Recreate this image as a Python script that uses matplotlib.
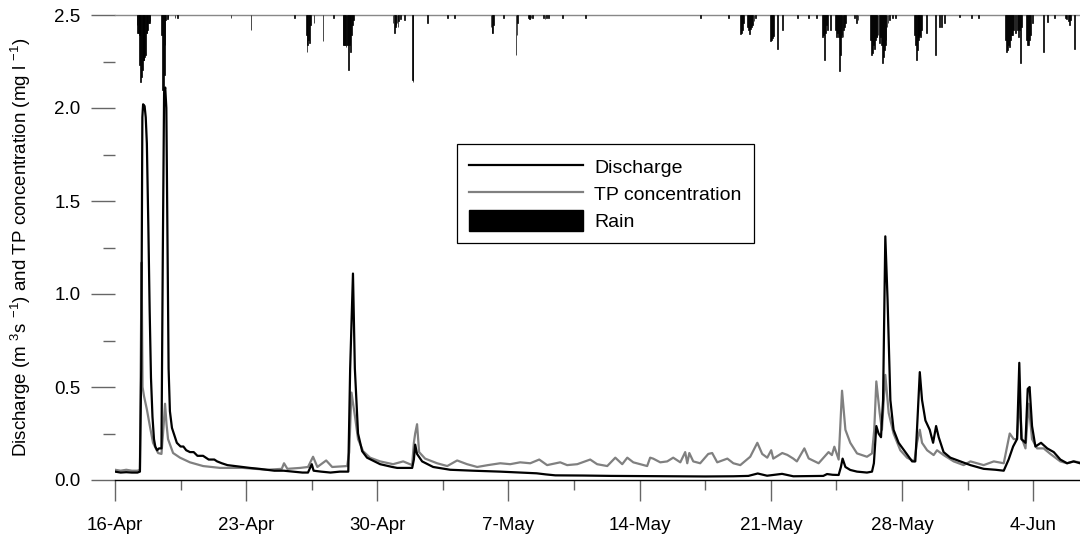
import matplotlib
matplotlib.use("Agg")
import matplotlib.pyplot as plt
import matplotlib.dates as mdates
from matplotlib.patches import Rectangle
from matplotlib.ticker import FixedLocator, MultipleLocator, FormatStrFormatter
import pandas as pd

plt.rcParams['font.family'] = ['Liberation Sans', 'DejaVu Sans']
plt.rcParams['mathtext.fontset'] = 'custom'
plt.rcParams['mathtext.rm'] = 'Liberation Sans'
plt.rcParams['mathtext.default'] = 'regular'

start = pd.Timestamp('2005-04-16')

# days since 16-Apr 00:00
q_days = [0.0, 0.3, 0.6, 0.9, 1.2, 1.33, 1.40, 1.46, 1.50, 1.58, 1.64, 1.70, 1.78, 1.85, 1.92,
          2.0, 2.08, 2.15, 2.25, 2.35, 2.48, 2.55, 2.62, 2.68, 2.74, 2.80, 2.86, 2.93, 3.04,
          3.3, 3.5, 3.65, 3.8, 4.0, 4.2, 4.4, 4.7, 5.0, 5.3, 5.45, 5.7, 6.0, 6.4, 6.8, 7.2,
          7.7, 8.1, 8.5, 9.0, 9.5, 10.0, 10.3, 10.5, 10.6, 11.0, 11.5, 12.0, 12.45, 12.55,
          12.7, 12.8, 12.97, 13.19, 13.45, 14.15, 14.8, 15.06, 15.86, 15.95, 16.02, 16.12,
          16.39, 16.98, 17.89, 19.11, 20.56, 21.62, 22.5, 23.0, 23.5, 25.0, 26.5, 28.0, 30.0,
          31.5, 33.0, 33.8, 34.3, 34.8, 35.6, 36.2, 37.0, 37.8, 38.0, 38.3, 38.62, 38.74,
          38.83, 38.98, 39.24, 39.6, 40.13, 40.4, 40.5, 40.63, 40.75, 40.88, 40.99, 41.11,
          41.23, 41.38, 41.55, 41.82, 42.18, 42.54, 42.71, 42.80, 42.95, 43.07, 43.25, 43.48,
          43.66, 43.82, 43.96, 44.22, 44.58, 45.11, 45.65, 46.36, 47.0, 47.43, 47.69, 47.93,
          48.14, 48.26, 48.37, 48.59, 48.71, 48.81, 48.94, 49.12, 49.42, 49.75, 50.10, 50.45,
          50.81, 51.16, 51.5]
discharge = [0.045, 0.04, 0.042, 0.04, 0.04, 0.045, 0.6, 1.95, 2.02, 2.01, 1.95, 1.81, 1.36, 0.91, 0.55,
             0.34, 0.22, 0.18, 0.16, 0.17, 0.17, 1.2, 2.08, 2.11, 2.0, 1.3, 0.6, 0.37, 0.28,
             0.2, 0.18, 0.18, 0.16, 0.15, 0.15, 0.13, 0.13, 0.11, 0.11, 0.10, 0.09, 0.08, 0.075, 0.07, 0.065,
             0.06, 0.055, 0.05, 0.05, 0.045, 0.04, 0.04, 0.085, 0.05, 0.045, 0.04, 0.045, 0.045, 0.6,
             1.11, 0.6, 0.25, 0.155, 0.12, 0.085, 0.07, 0.065, 0.065, 0.11, 0.19, 0.14,
             0.1, 0.07, 0.055, 0.05, 0.045, 0.04, 0.036, 0.03, 0.025, 0.024, 0.022, 0.021, 0.02,
             0.019, 0.02, 0.022, 0.035, 0.023, 0.033, 0.02, 0.021, 0.022, 0.032, 0.028, 0.027, 0.07,
             0.115, 0.07, 0.054, 0.045, 0.04, 0.045, 0.09, 0.29, 0.25, 0.23, 0.43, 1.31,
             0.97, 0.43, 0.27, 0.2, 0.15, 0.1, 0.1, 0.27, 0.58, 0.43, 0.32, 0.27,
             0.2, 0.29, 0.23, 0.15, 0.12, 0.1, 0.08, 0.06, 0.055, 0.05, 0.11, 0.18,
             0.22, 0.63, 0.22, 0.2, 0.49, 0.5, 0.29, 0.18, 0.2, 0.17, 0.15, 0.11,
             0.09, 0.1, 0.09]

tp_days = [0.0, 0.3, 0.6, 0.9, 1.2, 1.33, 1.37, 1.42, 1.47, 1.55, 1.7, 1.87, 2.03, 2.3, 2.48,
           2.60, 2.67, 2.75, 2.83, 3.1, 3.47, 4.0, 4.7, 5.61, 6.83, 8.12, 8.9, 9.02, 9.2,
           9.88, 10.3, 10.57, 10.8, 11.27, 11.59, 12.39, 12.5, 12.62, 12.81, 12.97, 13.24,
           13.61, 14.15, 14.84, 15.38, 15.86, 15.95, 16.02, 16.12, 16.23, 16.55, 17.19, 17.73,
           18.26, 18.79, 19.33, 19.9, 20.56, 21.09, 21.62, 22.16, 22.64, 23.06, 23.76, 24.13,
           24.67, 25.36, 25.73, 26.27, 26.70, 27.07, 27.34, 27.66, 28.03, 28.40, 28.56, 28.72,
           29.10, 29.47, 29.79, 30.17, 30.43, 30.54, 30.65, 30.86, 31.23, 31.66, 31.87, 32.14,
           32.68, 33.00, 33.37, 33.90, 34.28, 34.54, 34.81, 35.02, 35.13, 35.61, 35.88, 36.04,
           36.2, 36.39, 36.79, 37.02, 37.55, 38.08, 38.26, 38.39, 38.62, 38.8, 38.98, 39.24,
           39.6, 40.13, 40.4, 40.52, 40.63, 40.81, 40.93, 41.11, 41.29, 41.55, 41.91, 42.27,
           42.66, 42.80, 42.95, 43.07, 43.34, 43.69, 43.87, 44.22, 44.76, 45.29, 45.65, 46.36,
           46.90, 47.43, 47.75, 47.96, 48.14, 48.28, 48.41, 48.59, 48.76, 48.94, 49.21, 49.56,
           49.92, 50.45, 50.81, 51.16, 51.5]
tp = [0.055, 0.05, 0.055, 0.05, 0.05, 0.055, 0.6, 1.17, 0.5, 0.45, 0.38, 0.285, 0.2, 0.145, 0.14,
      0.3, 0.41, 0.3, 0.22, 0.145, 0.12, 0.095, 0.075, 0.065, 0.065, 0.055, 0.06, 0.09, 0.06,
      0.065, 0.07, 0.125, 0.07, 0.105, 0.07, 0.075, 0.15, 0.47, 0.34, 0.22, 0.155,
      0.12, 0.1, 0.085, 0.1, 0.08, 0.2, 0.25, 0.3, 0.15, 0.115, 0.09, 0.075,
      0.105, 0.085, 0.07, 0.08, 0.09, 0.085, 0.095, 0.09, 0.11, 0.08, 0.095, 0.08,
      0.085, 0.11, 0.085, 0.075, 0.12, 0.085, 0.12, 0.095, 0.085, 0.075, 0.12, 0.115,
      0.095, 0.1, 0.12, 0.095, 0.15, 0.09, 0.145, 0.1, 0.09, 0.14, 0.145, 0.095,
      0.115, 0.09, 0.08, 0.125, 0.2, 0.14, 0.12, 0.16, 0.115, 0.145, 0.135, 0.125,
      0.115, 0.1, 0.17, 0.116, 0.09, 0.15, 0.134, 0.179, 0.11, 0.48, 0.27, 0.2,
      0.143, 0.125, 0.143, 0.27, 0.53, 0.36, 0.27, 0.565, 0.36, 0.25, 0.16, 0.12,
      0.1, 0.2, 0.27, 0.2, 0.16, 0.134, 0.16, 0.134, 0.1, 0.08, 0.1, 0.08,
      0.1, 0.09, 0.25, 0.22, 0.22, 0.43, 0.22, 0.17, 0.41, 0.22, 0.17, 0.17,
      0.14, 0.1, 0.09, 0.1, 0.095]

# rain (mm per hour), hanging from the top of the plot
rain_days = [1.17, 1.21, 1.25, 1.29, 1.33, 1.38, 1.42, 1.46, 1.50, 1.54, 1.58, 1.63, 1.67, 1.71,
             1.75, 1.79, 1.83, 1.87, 2.50, 2.54, 2.58, 2.63, 2.67, 2.71, 2.79, 2.83, 3.2, 3.35,
             6.19, 7.26, 9.56, 10.20, 10.25, 10.29, 10.33, 10.38, 10.42, 10.62, 11.1, 11.64,
             12.17, 12.21, 12.25, 12.29, 12.33, 12.38, 12.42, 12.46, 12.50, 12.54, 12.58, 12.62,
             12.67, 12.75, 14.84, 14.90, 14.95, 15.0, 15.05, 15.1, 15.15, 15.25, 15.45, 15.86,
             15.9, 16.66, 17.73, 18.1, 20.07, 20.12, 20.16, 20.2, 20.72, 21.4, 21.45, 21.5,
             22.05, 22.1, 22.15, 22.2, 22.3, 22.85, 22.95, 23.05, 23.12, 23.87, 25.09, 31.23,
             32.73, 33.37, 33.42, 33.47, 33.52, 33.74, 33.79, 33.85, 33.9, 33.95, 34.0, 34.1,
             34.2, 34.97, 35.02, 35.07, 35.13, 35.34, 35.61, 36.41, 37.0, 37.43, 37.75, 37.8,
             37.85, 37.9, 37.95, 38.01, 38.17, 38.44, 38.5, 38.55, 38.6, 38.65, 38.7, 38.75,
             38.8, 38.85, 38.9, 38.95, 39.0, 39.46, 39.55, 39.65, 40.31, 40.36, 40.41, 40.46,
             40.52, 40.57, 40.62, 40.67, 40.72, 40.78, 40.84, 40.89, 40.94, 41.0, 41.05, 41.1,
             41.15, 41.2, 41.25, 41.35, 41.48, 41.64, 42.66, 42.71, 42.76, 42.81, 42.86, 42.9,
             42.95, 43.0, 43.05, 43.3, 43.78, 43.99, 44.1, 44.26, 45.06, 45.7, 46.07, 47.52,
             47.57, 47.62, 47.67, 47.73, 47.78, 47.84, 47.89, 47.95, 48.05, 48.15, 48.21, 48.27,
             48.32, 48.37, 48.64, 48.69, 48.75, 48.8, 48.86, 48.96, 49.55, 49.76, 50.13, 50.72,
             50.8, 50.88, 50.94, 50.99, 51.2]
rain = [0.22, 0.39, 0.39, 0.43, 1.08, 1.44, 1.33, 1.18, 0.97, 0.97, 0.90, 0.86, 0.39, 0.39,
        0.32, 0.17, 0.17, 0.13, 0.43, 1.61, 2.19, 1.29, 0.65, 0.11, 0.09, 0.06, 0.06, 0.06,
        0.06, 0.32, 0.06, 0.43, 0.80, 0.65, 0.54, 0.60, 0.22, 0.17, 0.56, 0.06,
        0.65, 0.65, 0.65, 0.65, 0.69, 0.65, 0.65, 1.18, 0.65, 0.60, 0.80, 0.43,
        0.22, 0.11, 0.17, 0.39, 0.26, 0.22, 0.17, 0.26, 0.13, 0.09, 0.11, 1.40,
        1.44, 0.17, 0.06, 0.06, 0.26, 0.39, 0.39, 0.22, 0.06, 0.86, 0.43, 0.17,
        0.06, 0.09, 0.09, 0.06, 0.06, 0.06, 0.09, 0.06, 0.06, 0.06, 0.06, 0.06,
        0.06, 0.41, 0.39, 0.32, 0.17, 0.26, 0.32, 0.41, 0.30, 0.26, 0.22, 0.13,
        0.06, 0.56, 0.54, 0.50, 0.45, 0.73, 0.32, 0.06, 0.06, 0.06, 0.47, 0.43,
        0.97, 0.39, 0.22, 0.32, 0.32, 0.32, 0.47, 0.39, 0.47, 1.20, 0.86, 0.47,
        0.43, 0.47, 0.32, 0.26, 0.17, 0.06, 0.17, 0.11, 0.54, 0.86, 0.82, 0.65,
        0.73, 0.54, 0.47, 0.47, 0.43, 0.60, 0.47, 0.65, 1.03, 0.90, 0.75, 0.65,
        0.54, 0.26, 0.17, 0.11, 0.06, 0.06, 0.43, 0.65, 0.97, 0.75, 0.54, 0.47,
        0.43, 0.47, 0.32, 0.39, 0.86, 0.26, 0.26, 0.17, 0.04, 0.06, 0.06, 0.54,
        0.80, 0.75, 0.65, 0.69, 0.54, 0.43, 0.43, 0.32, 0.39, 0.32, 0.47, 0.32,
        1.03, 0.26, 0.54, 0.65, 0.65, 0.54, 0.43, 0.17, 0.80, 0.15, 0.06, 0.06,
        0.09, 0.13, 0.22, 0.11, 0.73]

week_labels = ['16-Apr', '23-Apr', '30-Apr', '7-May', '14-May', '21-May', '28-May', '4-Jun']


def to_dates(days):
    return start + pd.to_timedelta(days, unit='D')


fs = 13.5
fig = plt.figure(figsize=(10.8, 5.4), dpi=100)
ax = fig.add_axes([115 / 1080, 60 / 540, 965 / 1080, 465 / 540])

ax.plot(to_dates(q_days), discharge, color='black', lw=1.6, label='Discharge', zorder=3)
ax.plot(to_dates(tp_days), tp, color='#808080', lw=1.6, label='TP concentration', zorder=2)

ax.set_xlim(start, start + pd.Timedelta(days=51.5))
ax.set_ylim(0, 2.5)

major = [mdates.date2num(start + pd.Timedelta(days=7 * i)) for i in range(8)]
minor = [mdates.date2num(start + pd.Timedelta(days=3.5 + 7 * i)) for i in range(8)]
ax.xaxis.set_major_locator(FixedLocator(major))
ax.xaxis.set_minor_locator(FixedLocator(minor))
ax.set_xticklabels(week_labels)

ax.yaxis.set_major_locator(MultipleLocator(0.5))
ax.yaxis.set_minor_locator(MultipleLocator(0.25))
ax.yaxis.set_major_formatter(FormatStrFormatter('%.1f'))

ax.tick_params(axis='both', which='major', direction='out', labelsize=fs, color='#666666', width=1)
ax.tick_params(axis='x', which='major', length=15, pad=12)
ax.tick_params(axis='x', which='minor', length=7.5, color='#666666', width=1)
ax.tick_params(axis='y', which='major', length=17, pad=8)
ax.tick_params(axis='y', which='minor', length=8.5, color='#666666', width=1)

ax.spines['left'].set_visible(False)
ax.spines['right'].set_visible(False)
ax.spines['bottom'].set_color('black')
ax.spines['bottom'].set_linewidth(1.0)
ax.spines['top'].set_color('#888888')
ax.spines['top'].set_linewidth(1.0)

ax.set_ylabel(r'Discharge (m $^{3}$s $^{-1}$) and TP concentration (mg l $^{-1}$)', fontsize=fs)
ax.yaxis.set_label_coords(-82 / 965, 0.5)

# rain on an inverted twin axis
rax = ax.twinx()
rax.bar(to_dates(rain_days), rain, width=0.045, color='black', edgecolor='black', linewidth=0.5)
rax.set_ylim(10, 0)
rax.set_yticks([])
for s in rax.spines.values():
    s.set_visible(False)

handles = [ax.lines[0], ax.lines[1], Rectangle((0, 0), 1, 1, color='black')]
leg = rax.legend(handles, ['Discharge', 'TP concentration', 'Rain'],
                 loc='upper left', bbox_to_anchor=(0.3544, 0.722), borderaxespad=0,
                 fontsize=14, handlelength=5.87, handleheight=1.3, handletextpad=0.57,
                 labelspacing=0.28, borderpad=0.62, fancybox=False, framealpha=1)
leg.get_frame().set_edgecolor('black')
leg.get_frame().set_linewidth(0.9)

fig.savefig('out.png', dpi=100)
